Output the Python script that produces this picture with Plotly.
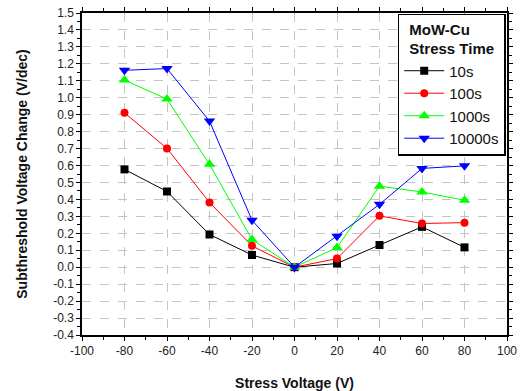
import plotly.graph_objects as go

voltage = [-80, -60, -40, -20, 0, 20, 40, 60, 80]
s10 = [0.577, 0.447, 0.193, 0.072, 0.0, 0.022, 0.131, 0.238, 0.117]
s100 = [0.911, 0.701, 0.382, 0.126, 0.0, 0.051, 0.303, 0.258, 0.263]
s1000 = [1.104, 0.992, 0.607, 0.163, 0.0, 0.116, 0.478, 0.444, 0.395]
s10000 = [1.162, 1.172, 0.862, 0.277, 0.0, 0.183, 0.371, 0.583, 0.598]

x_ticks = [-100, -80, -60, -40, -20, 0, 20, 40, 60, 80, 100]
y_ticks = [round(-0.4 + 0.1 * i, 1) for i in range(20)]

series = [
    ("10s", s10, "#000000", "square", 8),
    ("100s", s100, "#ff0000", "circle", 8),
    ("1000s", s1000, "#00ff00", "triangle-up", 10),
    ("10000s", s10000, "#0000ff", "triangle-down", 10),
]

fig = go.Figure()
for name, vals, col, sym, sz in series:
    fig.add_trace(go.Scatter(
        x=voltage, y=vals, name=name, mode="lines+markers",
        line=dict(color=col, width=1),
        marker=dict(symbol=sym, size=sz, color=col),
    ))

font = dict(family="Liberation Sans, Arial, sans-serif", size=12, color="#222")
fig.update_layout(
    width=520, height=391,
    margin=dict(l=82, r=13, t=13, b=56),
    paper_bgcolor="white", plot_bgcolor="white",
    font=font,
    showlegend=True,
    legend=dict(
        title=dict(text="<b>MoW-Cu<br>Stress Time</b>", side="top center",
                   font=dict(size=15, color="#111")),
        x=0.997, y=0.997, xanchor="right", yanchor="top",
        bgcolor="white", bordercolor="black", borderwidth=1.5,
        font=dict(size=15, color="#111"),
        itemwidth=40, tracegroupgap=0,
    ),
    xaxis=dict(
        range=[-100, 100], tickvals=x_ticks, ticktext=[str(v) for v in x_ticks],
        showgrid=True, gridcolor="#c4c4c4", griddash="dash", gridwidth=1,
        zeroline=False, showline=True, linecolor="black", linewidth=1.5,
        mirror="ticks", ticks="outside", ticklen=4, tickcolor="black",
        minor=dict(dtick=10, tick0=0, ticklen=3, ticks="outside", tickcolor="black", showgrid=False),
        tickfont=dict(size=12), automargin=False,
        title=dict(text="<b>Stress Voltage (V)</b>", font=dict(size=14, color="#111"), standoff=22),
    ),
    yaxis=dict(
        range=[-0.4, 1.5], tickvals=y_ticks, ticktext=[f"{v:.1f}" for v in y_ticks],
        showgrid=True, gridcolor="#c4c4c4", griddash="dash", gridwidth=1,
        zeroline=False, showline=True, linecolor="black", linewidth=1.5,
        mirror="ticks", ticks="outside", ticklen=4, tickcolor="black",
        minor=dict(dtick=0.05, tick0=0, ticklen=3, ticks="outside", tickcolor="black", showgrid=False),
        tickfont=dict(size=12), automargin=False,
        title=dict(text="<b>Subthreshold Voltage Change (V/dec)</b>", font=dict(size=14, color="#111"), standoff=22),
    ),
)

fig.write_html("out.html", config={"displayModeBar": False},
               post_script="document.body.style.margin='0';")
